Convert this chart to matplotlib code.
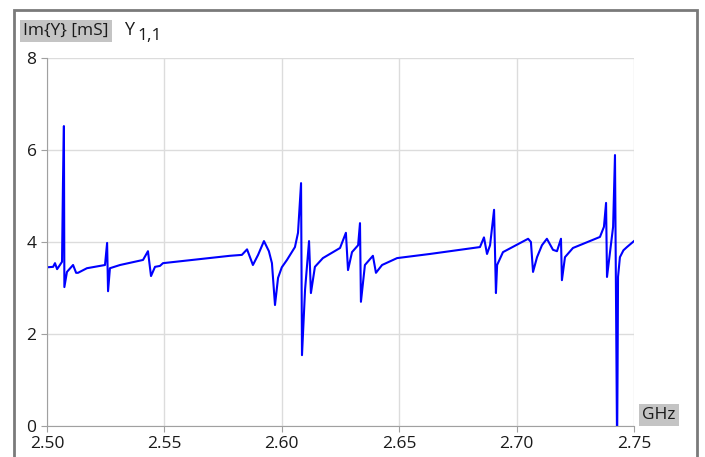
import matplotlib
matplotlib.use("Agg")
import matplotlib.pyplot as plt
from matplotlib.patches import Rectangle

plt.rcParams['font.family'] = ['Open Sans', 'DejaVu Sans']

# frequency [GHz] and Im{Y11} [mS]
freq = [2.5000, 2.5026, 2.5034, 2.5043, 2.5055, 2.5064, 2.5068, 2.5072, 2.5074,
        2.5085, 2.5111, 2.5124, 2.5132, 2.5170, 2.5247, 2.5256, 2.5260, 2.5268,
        2.5311, 2.5409, 2.5430, 2.5443, 2.5460, 2.5481, 2.5494, 2.5779, 2.5830,
        2.5852, 2.5877, 2.5899, 2.5924, 2.5945, 2.5958, 2.5971, 2.5984, 2.6000,
        2.6022, 2.6056, 2.6069, 2.6082, 2.6086, 2.6099, 2.6116, 2.6124, 2.6141,
        2.6175, 2.6248, 2.6273, 2.6282, 2.6299, 2.6325, 2.6333, 2.6337, 2.6354,
        2.6388, 2.6401, 2.6427, 2.6491, 2.6631, 2.6844, 2.6861, 2.6874, 2.6887,
        2.6904, 2.6912, 2.6917, 2.6942, 2.7049, 2.7061, 2.7070, 2.7087, 2.7108,
        2.7129, 2.7155, 2.7172, 2.7189, 2.7193, 2.7206, 2.7240, 2.7355, 2.7372,
        2.7381, 2.7385, 2.7411, 2.7419, 2.7428, 2.7430, 2.7432, 2.7440, 2.7455,
        2.7470, 2.7500]
im_y = [3.45, 3.46, 3.54, 3.41, 3.50, 3.57, 5.28, 6.52, 3.02,
        3.35, 3.50, 3.33, 3.33, 3.43, 3.50, 3.98, 2.93, 3.43,
        3.50, 3.61, 3.80, 3.26, 3.46, 3.48, 3.54, 3.70, 3.72,
        3.84, 3.50, 3.72, 4.02, 3.80, 3.54, 2.63, 3.22, 3.45,
        3.61, 3.89, 4.20, 5.28, 1.54, 2.96, 4.02, 2.89, 3.46,
        3.65, 3.87, 4.20, 3.39, 3.78, 3.93, 4.41, 2.70, 3.50,
        3.70, 3.33, 3.50, 3.65, 3.74, 3.89, 4.10, 3.74, 3.93,
        4.70, 2.89, 3.50, 3.78, 4.07, 4.00, 3.35, 3.67, 3.93,
        4.07, 3.83, 3.80, 4.07, 3.17, 3.67, 3.87, 4.11, 4.33,
        4.85, 3.24, 4.33, 5.89, -0.50, 1.20, 3.24, 3.67, 3.82,
        3.89, 4.02]

x_ticks = [2.50, 2.55, 2.60, 2.65, 2.70, 2.75]
y_ticks = [0, 2, 4, 6, 8]

fig = plt.figure(figsize=(7.05, 4.57), dpi=100)
ax = fig.add_axes([47 / 705, 31 / 457, 587 / 705, 368 / 457])

ax.plot(freq, im_y, color='#0000ff', lw=1.5)
ax.set_xlim(2.5, 2.75)
ax.set_ylim(0, 8)
ax.set_xticks(x_ticks)
ax.set_xticklabels(['%.2f' % v for v in x_ticks])
ax.set_yticks(y_ticks)
ax.grid(True, color='#dcdcdc', lw=1)
ax.set_axisbelow(True)
for s in ['top', 'right']:
    ax.spines[s].set_visible(False)
for s in ['left', 'bottom']:
    ax.spines[s].set_color('#a0a0a0')
ax.tick_params(colors='#a0a0a0', labelcolor='#1a1a1a', labelsize=12.5, length=4)

# outer frame
fig.patches.append(Rectangle((14 / 705, -0.1), 683 / 705, 1.1 - 10 / 457,
                             transform=fig.transFigure, fill=False,
                             edgecolor='#7a7a7a', lw=2))

fig.text(23 / 705, 1 - 31 / 457, 'Im{Y} [mS]', fontsize=12.5, va='center', ha='left',
         color='#1a1a1a', bbox=dict(boxstyle='square,pad=0.2', fc='#c4c4c4', ec='none'))
fig.text(124 / 705, 1 - 30 / 457, 'Y', fontsize=13, va='center', ha='left', color='#1a1a1a')
fig.text(137 / 705, 1 - 36 / 457, '1,1', fontsize=12.5, va='center', ha='left', color='#1a1a1a')
fig.text(642 / 705, 1 - 415 / 457, 'GHz', fontsize=12.5, va='center', ha='left',
         color='#1a1a1a', bbox=dict(boxstyle='square,pad=0.2', fc='#c4c4c4', ec='none'))

fig.savefig('out.png', dpi=100)
